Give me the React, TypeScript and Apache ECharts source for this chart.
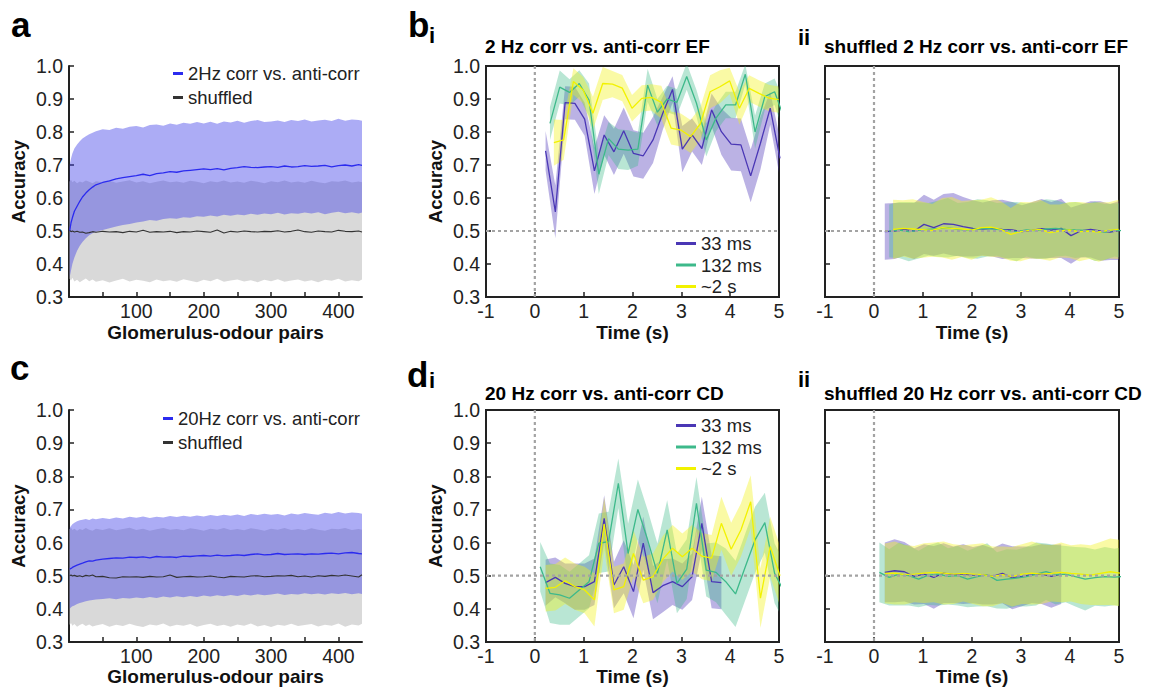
import React, { useEffect, useRef } from 'react';
import * as echarts from 'echarts';

const FONT = '"Liberation Sans", Arial, Helvetica, sans-serif';

// ---------- panels a / c : x = glomerulus-odour pairs ----------
const PAIRS = [1, 3, 5, 8, 12, 16, 20, 25, 30, 35, 40,
  50, 60, 70, 80, 90, 100, 110, 120, 130, 140,
  150, 160, 170, 180, 190, 200, 210, 220, 230, 240,
  250, 260, 270, 280, 290, 300, 310, 320, 330, 340,
  350, 360, 370, 380, 390, 400, 410, 420, 430, 435];
const PAIR_TICKS = [50, 100, 150, 200, 250, 300, 350, 400];
const PAIR_LABELS = [100, 200, 300, 400];
const ACC_TICKS = [0.3, 0.4, 0.5, 0.6, 0.7, 0.8, 0.9, 1.0];
const TIME_TICKS = [-1, 0, 1, 2, 3, 4, 5];

const aMean = [0.500, 0.525, 0.540, 0.560, 0.575, 0.590, 0.603, 0.615, 0.625, 0.633, 0.640,
  0.647, 0.652, 0.658, 0.662, 0.665, 0.668, 0.672, 0.668, 0.674, 0.676,
  0.680, 0.678, 0.682, 0.684, 0.686, 0.688, 0.686, 0.689, 0.685, 0.690,
  0.692, 0.695, 0.693, 0.692, 0.694, 0.695, 0.693, 0.697, 0.694, 0.695,
  0.698, 0.696, 0.697, 0.699, 0.694, 0.698, 0.700, 0.697, 0.701, 0.699];
const aHi = [0.700, 0.720, 0.735, 0.750, 0.762, 0.772, 0.780, 0.787, 0.793, 0.798, 0.802,
  0.808, 0.806, 0.813, 0.810, 0.816, 0.818, 0.814, 0.821, 0.823, 0.819,
  0.826, 0.822, 0.828, 0.825, 0.830, 0.826, 0.831, 0.825, 0.832, 0.829,
  0.834, 0.828, 0.833, 0.836, 0.830, 0.832, 0.835, 0.830, 0.836, 0.833,
  0.838, 0.832, 0.835, 0.837, 0.833, 0.840, 0.834, 0.838, 0.836, 0.834];
const aLo = [0.360, 0.380, 0.400, 0.420, 0.440, 0.455, 0.467, 0.478, 0.487, 0.493, 0.498,
  0.503, 0.508, 0.514, 0.518, 0.521, 0.526, 0.529, 0.533, 0.531, 0.536,
  0.539, 0.537, 0.542, 0.540, 0.545, 0.543, 0.547, 0.544, 0.549, 0.546,
  0.550, 0.548, 0.552, 0.549, 0.553, 0.551, 0.555, 0.550, 0.554, 0.552,
  0.556, 0.553, 0.557, 0.551, 0.555, 0.558, 0.554, 0.557, 0.553, 0.556];
const aShufMean = [0.502, 0.498, 0.500, 0.497, 0.499, 0.496, 0.497, 0.493, 0.495, 0.498, 0.496,
  0.499, 0.497, 0.498, 0.495, 0.499, 0.497, 0.502, 0.496, 0.498, 0.497,
  0.499, 0.495, 0.498, 0.497, 0.500, 0.498, 0.496, 0.503, 0.494, 0.499,
  0.497, 0.500, 0.498, 0.497, 0.499, 0.498, 0.501, 0.497, 0.499, 0.503,
  0.498, 0.496, 0.500, 0.498, 0.497, 0.502, 0.499, 0.498, 0.500, 0.497];
const aShufHi = [0.650, 0.655, 0.648, 0.652, 0.645, 0.650, 0.647, 0.653, 0.649, 0.645, 0.651,
  0.648, 0.652, 0.646, 0.650, 0.654, 0.647, 0.651, 0.645, 0.649, 0.653,
  0.648, 0.650, 0.646, 0.652, 0.649, 0.645, 0.651, 0.648, 0.653, 0.647,
  0.650, 0.646, 0.652, 0.649, 0.645, 0.651, 0.648, 0.653, 0.647, 0.650,
  0.646, 0.652, 0.648, 0.645, 0.651, 0.649, 0.653, 0.647, 0.650, 0.648];
const aShufLo = [0.355, 0.350, 0.358, 0.347, 0.352, 0.345, 0.350, 0.356, 0.348, 0.353, 0.346,
  0.351, 0.344, 0.350, 0.355, 0.347, 0.352, 0.349, 0.345, 0.353, 0.348,
  0.351, 0.346, 0.354, 0.349, 0.345, 0.352, 0.348, 0.355, 0.346, 0.350,
  0.353, 0.347, 0.351, 0.345, 0.352, 0.348, 0.354, 0.346, 0.350, 0.353,
  0.347, 0.351, 0.345, 0.352, 0.349, 0.355, 0.347, 0.351, 0.348, 0.353];

const cMean = [0.520, 0.522, 0.525, 0.528, 0.532, 0.535, 0.538, 0.542, 0.545, 0.544, 0.547,
  0.550, 0.552, 0.554, 0.553, 0.556, 0.555, 0.557, 0.554, 0.558, 0.556,
  0.557, 0.555, 0.559, 0.558, 0.560, 0.561, 0.559, 0.562, 0.560, 0.561,
  0.563, 0.561, 0.564, 0.566, 0.563, 0.564, 0.567, 0.564, 0.565, 0.566,
  0.564, 0.566, 0.565, 0.567, 0.568, 0.566, 0.569, 0.570, 0.567, 0.566];
const cHi = [0.645, 0.650, 0.655, 0.660, 0.664, 0.667, 0.669, 0.671, 0.668, 0.673, 0.670,
  0.674, 0.671, 0.676, 0.673, 0.678, 0.675, 0.679, 0.674, 0.678, 0.676,
  0.680, 0.677, 0.681, 0.678, 0.682, 0.679, 0.683, 0.680, 0.684, 0.681,
  0.685, 0.680, 0.686, 0.683, 0.687, 0.684, 0.686, 0.682, 0.688, 0.685,
  0.689, 0.686, 0.684, 0.690, 0.687, 0.692, 0.688, 0.691, 0.689, 0.687];
const cLo = [0.400, 0.405, 0.408, 0.410, 0.415, 0.418, 0.420, 0.423, 0.425, 0.427, 0.428,
  0.430, 0.432, 0.429, 0.433, 0.431, 0.434, 0.432, 0.436, 0.433, 0.437,
  0.434, 0.438, 0.435, 0.439, 0.436, 0.440, 0.437, 0.441, 0.438, 0.442,
  0.439, 0.443, 0.440, 0.444, 0.441, 0.443, 0.446, 0.442, 0.445, 0.443,
  0.447, 0.444, 0.446, 0.443, 0.447, 0.445, 0.448, 0.444, 0.447, 0.445];
const cShufMean = [0.500, 0.502, 0.499, 0.501, 0.498, 0.500, 0.497, 0.501, 0.499, 0.502, 0.497,
  0.498, 0.494, 0.493, 0.497, 0.496, 0.497, 0.495, 0.498, 0.496, 0.497,
  0.502, 0.495, 0.497, 0.498, 0.496, 0.497, 0.499, 0.496, 0.494, 0.498,
  0.497, 0.496, 0.499, 0.500, 0.497, 0.498, 0.500, 0.499, 0.501, 0.497,
  0.499, 0.496, 0.500, 0.498, 0.501, 0.499, 0.502, 0.499, 0.496, 0.503];
const cShufHi = [0.640, 0.645, 0.638, 0.642, 0.636, 0.641, 0.638, 0.644, 0.639, 0.636, 0.642,
  0.638, 0.643, 0.637, 0.641, 0.645, 0.638, 0.642, 0.636, 0.640, 0.644,
  0.639, 0.641, 0.637, 0.643, 0.640, 0.636, 0.642, 0.639, 0.644, 0.638,
  0.641, 0.637, 0.643, 0.640, 0.636, 0.642, 0.639, 0.644, 0.638, 0.641,
  0.637, 0.643, 0.639, 0.636, 0.642, 0.640, 0.644, 0.638, 0.641, 0.639];
const cShufLo = [0.352, 0.357, 0.349, 0.354, 0.346, 0.351, 0.355, 0.348, 0.353, 0.347, 0.350,
  0.354, 0.346, 0.352, 0.348, 0.355, 0.349, 0.345, 0.353, 0.350, 0.356,
  0.347, 0.352, 0.349, 0.354, 0.346, 0.351, 0.355, 0.348, 0.352, 0.346,
  0.353, 0.349, 0.356, 0.347, 0.351, 0.345, 0.352, 0.349, 0.355, 0.348,
  0.351, 0.354, 0.347, 0.352, 0.349, 0.356, 0.346, 0.353, 0.350, 0.355];

// ---------- panels b / d : x = time (s) ----------
const T22 = [0.22, 0.42, 0.62, 0.82, 1.02, 1.22, 1.42, 1.62, 1.82, 2.02, 2.22, 2.42, 2.62,
  2.82, 3.02, 3.22, 3.42, 3.62, 3.82, 4.02, 4.22, 4.42, 4.62, 4.82, 5.02];
const T31 = [0.31, 0.51, 0.71, 0.91, 1.11, 1.31, 1.51, 1.71, 1.91, 2.11, 2.31, 2.51, 2.71,
  2.91, 3.11, 3.31, 3.51, 3.71, 3.91, 4.11, 4.31, 4.51, 4.71, 4.91, 5.11];
const T39 = [0.39, 0.59, 0.79, 0.99, 1.19, 1.39, 1.59, 1.79, 1.99, 2.19, 2.39, 2.59, 2.79,
  2.99, 3.19, 3.39, 3.59, 3.79, 3.99, 4.19, 4.39, 4.59, 4.79, 4.99];
const T11 = [0.11, 0.31, 0.51, 0.71, 0.91, 1.11, 1.31, 1.51, 1.71, 1.91, 2.11, 2.31, 2.51,
  2.71, 2.91, 3.11, 3.31, 3.51, 3.71, 3.91, 4.11, 4.31, 4.51, 4.71, 4.91, 5.11];
const T22short = [0.22, 0.42, 0.62, 0.82, 1.02, 1.22, 1.42, 1.62, 1.82, 2.02, 2.22, 2.42, 2.62,
  2.82, 3.02, 3.22, 3.42, 3.62, 3.82];

// b(i) 2 Hz corr vs anti-corr EF
const bP = [0.743, 0.558, 0.889, 0.887, 0.839, 0.682, 0.791, 0.740, 0.804, 0.735, 0.728, 0.776, 0.857,
  0.929, 0.748, 0.791, 0.750, 0.867, 0.801, 0.763, 0.761, 0.667, 0.766, 0.872, 0.720];
const bPe = [0.06, 0.08, 0.05, 0.05, 0.05, 0.07, 0.06, 0.07, 0.07, 0.07, 0.07, 0.07, 0.05,
  0.04, 0.07, 0.05, 0.05, 0.05, 0.07, 0.08, 0.08, 0.08, 0.08, 0.05, 0.06];
const bG = [0.826, 0.936, 0.920, 0.947, 0.897, 0.672, 0.780, 0.748, 0.745, 0.748, 0.942, 0.860, 0.900,
  0.890, 0.968, 0.887, 0.776, 0.842, 0.882, 0.882, 0.975, 0.800, 0.907, 0.922, 0.840];
const bGe = [0.05, 0.05, 0.04, 0.04, 0.05, 0.06, 0.05, 0.06, 0.06, 0.05, 0.05, 0.04, 0.04,
  0.04, 0.04, 0.04, 0.05, 0.04, 0.04, 0.04, 0.03, 0.05, 0.04, 0.04, 0.05];
const bY = [0.768, 0.776, 0.953, 0.927, 0.857, 0.947, 0.945, 0.933, 0.872, 0.902, 0.905, 0.890, 0.812,
  0.806, 0.786, 0.825, 0.922, 0.937, 0.955, 0.872, 0.932, 0.917, 0.903, 0.898];
const bYe = [0.07, 0.06, 0.04, 0.04, 0.05, 0.05, 0.04, 0.04, 0.04, 0.04, 0.04, 0.05, 0.05,
  0.05, 0.05, 0.05, 0.05, 0.05, 0.04, 0.05, 0.04, 0.04, 0.04, 0.04];

// b(ii) shuffled
const sbP = [0.498, 0.500, 0.505, 0.500, 0.520, 0.510, 0.522, 0.520, 0.513, 0.508, 0.506, 0.508, 0.505,
  0.503, 0.498, 0.502, 0.507, 0.503, 0.508, 0.486, 0.500, 0.505, 0.500, 0.497, 0.502];
const sbPe = [0.085, 0.085, 0.080, 0.085, 0.090, 0.085, 0.090, 0.095, 0.090, 0.085, 0.080, 0.085, 0.090,
  0.085, 0.080, 0.085, 0.090, 0.085, 0.090, 0.085, 0.080, 0.085, 0.090, 0.085, 0.090];
const sbG = [0.500, 0.503, 0.498, 0.502, 0.505, 0.507, 0.510, 0.505, 0.503, 0.506, 0.508, 0.505, 0.502,
  0.498, 0.503, 0.501, 0.506, 0.508, 0.505, 0.503, 0.502, 0.499, 0.497, 0.503, 0.500];
const sbGe = [0.080, 0.085, 0.090, 0.085, 0.080, 0.085, 0.090, 0.080, 0.085, 0.090, 0.085, 0.080, 0.085,
  0.090, 0.080, 0.085, 0.090, 0.085, 0.080, 0.085, 0.080, 0.090, 0.085, 0.080, 0.085];
const sbY = [0.505, 0.508, 0.506, 0.504, 0.502, 0.510, 0.508, 0.506, 0.503, 0.510, 0.512, 0.505, 0.490,
  0.498, 0.502, 0.505, 0.495, 0.500, 0.503, 0.498, 0.500, 0.497, 0.502, 0.505];
const sbYe = [0.090, 0.085, 0.090, 0.085, 0.080, 0.090, 0.095, 0.085, 0.090, 0.085, 0.090, 0.085, 0.080,
  0.090, 0.085, 0.090, 0.085, 0.080, 0.085, 0.090, 0.085, 0.090, 0.085, 0.090];

// d(i) 20 Hz corr vs anti-corr CD
const dP = [0.479, 0.495, 0.477, 0.467, 0.467, 0.482, 0.673, 0.472, 0.527, 0.452, 0.598, 0.449, 0.470,
  0.482, 0.467, 0.497, 0.658, 0.482, 0.479];
const dPe = [0.07, 0.06, 0.06, 0.07, 0.07, 0.07, 0.07, 0.07, 0.08, 0.08, 0.08, 0.08, 0.08,
  0.07, 0.07, 0.07, 0.08, 0.08, 0.08];
const dG = [0.527, 0.447, 0.442, 0.432, 0.457, 0.482, 0.598, 0.603, 0.779, 0.567, 0.700, 0.608, 0.507,
  0.638, 0.477, 0.520, 0.718, 0.517, 0.510, 0.482, 0.445, 0.527, 0.608, 0.660, 0.507, 0.450];
const dGe = [0.075, 0.09, 0.09, 0.08, 0.08, 0.08, 0.09, 0.09, 0.075, 0.09, 0.09, 0.09, 0.09,
  0.09, 0.09, 0.09, 0.08, 0.08, 0.09, 0.10, 0.10, 0.10, 0.10, 0.09, 0.09, 0.09];
const dY = [0.462, 0.465, 0.485, 0.467, 0.457, 0.427, 0.656, 0.457, 0.467, 0.567, 0.487, 0.497, 0.550,
  0.583, 0.557, 0.583, 0.559, 0.553, 0.658, 0.580, 0.638, 0.723, 0.432, 0.588, 0.500];
const dYe = [0.07, 0.07, 0.07, 0.07, 0.07, 0.08, 0.08, 0.07, 0.07, 0.07, 0.07, 0.07, 0.07,
  0.07, 0.07, 0.07, 0.07, 0.07, 0.08, 0.08, 0.08, 0.08, 0.09, 0.09, 0.09];

// d(ii) shuffled
const sdP = [0.510, 0.515, 0.512, 0.498, 0.505, 0.495, 0.508, 0.503, 0.505, 0.502, 0.503, 0.498, 0.507,
  0.494, 0.498, 0.503, 0.505, 0.498, 0.505];
const sdPe = [0.090, 0.095, 0.090, 0.085, 0.090, 0.095, 0.090, 0.085, 0.090, 0.085, 0.090, 0.085, 0.090,
  0.095, 0.090, 0.085, 0.090, 0.095, 0.090];
const sdG = [0.510, 0.495, 0.505, 0.500, 0.490, 0.502, 0.505, 0.498, 0.500, 0.490, 0.497, 0.503, 0.486,
  0.490, 0.493, 0.497, 0.505, 0.512, 0.503, 0.505, 0.497, 0.490, 0.494, 0.497, 0.496, 0.498];
const sdGe = [0.090, 0.085, 0.095, 0.090, 0.085, 0.090, 0.095, 0.085, 0.090, 0.085, 0.090, 0.095, 0.085,
  0.090, 0.085, 0.090, 0.095, 0.085, 0.090, 0.085, 0.090, 0.095, 0.085, 0.090, 0.085, 0.090];
const sdY = [0.507, 0.508, 0.503, 0.505, 0.508, 0.510, 0.508, 0.505, 0.507, 0.505, 0.503, 0.498, 0.503,
  0.497, 0.505, 0.508, 0.505, 0.507, 0.510, 0.507, 0.505, 0.502, 0.507, 0.512, 0.508];
const sdYe = [0.090, 0.095, 0.090, 0.085, 0.090, 0.090, 0.095, 0.090, 0.085, 0.090, 0.095, 0.090, 0.085,
  0.090, 0.090, 0.095, 0.090, 0.085, 0.090, 0.085, 0.090, 0.090, 0.095, 0.100, 0.100];

// ---------- styling ----------
const INK = '#222';
const GRAY_BAND = '#d9d9d9';
const BLUE_BAND = 'rgba(58,58,232,0.42)';
const BLUE_LINE = '#2b2bef';
const SHUF_LINE = '#333333';
const P_LINE = '#4a37b5';
const G_LINE = '#3db98a';
const Y_LINE = '#f2f200';
const P_BAND = 'rgba(75,52,185,0.38)';
const G_BAND = 'rgba(60,185,135,0.36)';
const Y_BAND = 'rgba(242,242,30,0.40)';
const REF_GRAY = '#a3a3a3';

const plus = (m: number[], e: number[]) => m.map((v, i) => v + e[i]);
const minus = (m: number[], e: number[]) => m.map((v, i) => v - e[i]);

function band(gi: number, id: string, xs: number[], lo: number[], hi: number[], color: string) {
  return {
    type: 'custom',
    name: id,
    xAxisIndex: gi,
    yAxisIndex: gi,
    z: 1,
    silent: true,
    clip: true,
    data: [[xs[0], lo[0]]],
    renderItem: (params: any, api: any) => {
      const top = xs.map((x, i) => api.coord([x, hi[i]]));
      const bot = xs.map((x, i) => api.coord([x, lo[i]])).reverse();
      const cs = params.coordSys;
      return {
        type: 'group',
        clipPath: { type: 'rect', shape: { x: cs.x, y: cs.y, width: cs.width, height: cs.height } },
        children: [
          { type: 'polygon', shape: { points: top.concat(bot) }, style: { fill: color, stroke: null } },
        ],
      };
    },
  };
}

// dashed reference lines (x = 0 and chance level 0.5), drawn through the axes' scales
function refLines(gi: number) {
  return {
    type: 'custom',
    name: 'ref-' + gi,
    xAxisIndex: gi,
    yAxisIndex: gi,
    z: 4,
    silent: true,
    data: [[0, 0.5]],
    renderItem: (params: any, api: any) => {
      const cs = params.coordSys;
      const p = api.coord([api.value(0), api.value(1)]);
      const style = { stroke: REF_GRAY, lineWidth: 2.2, lineDash: [3, 3], fill: null };
      return {
        type: 'group',
        children: [
          { type: 'line', shape: { x1: p[0], y1: cs.y, x2: p[0], y2: cs.y + cs.height }, style },
          { type: 'line', shape: { x1: cs.x, y1: p[1], x2: cs.x + cs.width, y2: p[1] }, style },
        ],
      };
    },
  };
}

function line(gi: number, name: string, xs: number[], ys: number[], color: string, width: number) {
  return {
    type: 'line',
    name,
    xAxisIndex: gi,
    yAxisIndex: gi,
    z: 3,
    silent: true,
    color,
    symbol: 'none',
    showSymbol: false,
    lineStyle: { color, width },
    emphasis: { disabled: true },
    data: xs.map((x, i) => [x, ys[i]]),
  };
}

const tickStyle = { color: INK, width: 1.5 };
const lineStyleAxis = { color: INK, width: 2 };
const labelBase = { fontSize: 19.5, color: INK, fontFamily: FONT };
const nameBase = { fontSize: 19, fontWeight: 'bold', color: '#111', fontFamily: FONT };

function xPairs(gi: number, gap: number) {
  return {
    gridIndex: gi, type: 'value', min: 0, max: 435,
    axisLine: { show: true, onZero: false, lineStyle: lineStyleAxis },
    axisTick: { show: true, inside: true, length: 5, lineStyle: tickStyle, customValues: PAIR_TICKS },
    axisLabel: { ...labelBase, margin: 4, customValues: PAIR_LABELS },
    splitLine: { show: false },
    name: 'Glomerulus-odour pairs', nameLocation: 'middle', nameGap: gap, nameTextStyle: nameBase,
  };
}
function xTime(gi: number, gap: number) {
  return {
    gridIndex: gi, type: 'value', min: -1, max: 5, interval: 1,
    axisLine: { show: true, onZero: false, lineStyle: lineStyleAxis },
    axisTick: { show: true, inside: true, length: 5, lineStyle: tickStyle, customValues: TIME_TICKS },
    axisLabel: { ...labelBase, margin: 4, customValues: TIME_TICKS },
    splitLine: { show: false },
    name: 'Time (s)', nameLocation: 'middle', nameGap: gap, nameTextStyle: nameBase,
  };
}
function yAcc(gi: number, labels: boolean) {
  return {
    gridIndex: gi, type: 'value', min: 0.3, max: 1.0, interval: 0.1,
    axisLine: { show: true, onZero: false, lineStyle: lineStyleAxis },
    axisTick: { show: true, inside: true, length: 5, lineStyle: tickStyle, customValues: ACC_TICKS },
    axisLabel: {
      show: labels, ...labelBase, margin: 6, customValues: ACC_TICKS,
      formatter: (v: number) => v.toFixed(1),
    },
    splitLine: { show: false },
    name: labels ? 'Accuracy' : '', nameLocation: 'middle', nameGap: 41,
    nameTextStyle: { ...nameBase, fontSize: 18.5 },
  };
}

const box = { show: true, borderColor: INK, borderWidth: 2, backgroundColor: 'rgba(0,0,0,0)' };

function letter(text: string, left: number, top: number, size: number) {
  return {
    text, left, top, padding: 0,
    textStyle: { fontSize: size, fontWeight: 'bold', color: '#000', fontFamily: FONT },
  };
}

const legendBase = {
  orient: 'vertical', icon: 'rect', selectedMode: false, padding: 0,
  textStyle: { fontSize: 18.5, color: INK, fontFamily: FONT },
};

const option: any = {
  animation: false,
  backgroundColor: '#fff',
  textStyle: { fontFamily: FONT },
  title: [
    letter('a', 11, 7, 35),
    letter('c', 10, 350, 35),
    letter('b', 408, 7, 35),
    letter('i', 429, 24.5, 22),
    letter('d', 407, 357, 35),
    letter('i', 429, 369.5, 22),
    letter('ii', 798, 26.5, 22),
    letter('ii', 798, 368.5, 22),
    letter('2 Hz corr vs. anti-corr EF', 485, 36.5, 19),
    letter('shuffled 2 Hz corr vs. anti-corr EF', 824, 36.5, 19),
    letter('20 Hz corr vs. anti-corr CD', 485, 384, 19),
    letter('shuffled 20 Hz corr vs. anti-corr CD', 824, 384, 19),
  ],
  legend: [
    { ...legendBase, data: ['2Hz corr vs. anti-corr', 'shuffled'], left: 173, top: 64, itemWidth: 10, itemHeight: 3, itemGap: 5 },
    { ...legendBase, data: ['20Hz corr vs. anti-corr', 'shuffled'], left: 163, top: 409, itemWidth: 10, itemHeight: 3, itemGap: 5 },
    { ...legendBase, data: ['33 ms', '132 ms', '~2 s'], left: 676, top: 234, itemWidth: 20, itemHeight: 3, itemGap: 2.5 },
    { ...legendBase, data: ['33 ms', '132 ms', '~2 s'], left: 676, top: 416, itemWidth: 20, itemHeight: 3, itemGap: 2.5 },
  ],
  grid: [
    { left: 69, top: 66, width: 293, height: 231 },
    { left: 486, top: 66, width: 293, height: 231, ...box },
    { left: 825, top: 66, width: 294, height: 231, ...box },
    { left: 69, top: 410, width: 293, height: 232 },
    { left: 486, top: 410, width: 293, height: 232, ...box },
    { left: 825, top: 410, width: 294, height: 232, ...box },
  ],
  xAxis: [xPairs(0, 26), xTime(1, 26), xTime(2, 26), xPairs(3, 24), xTime(4, 24), xTime(5, 24)],
  yAxis: [yAcc(0, true), yAcc(1, true), yAcc(2, false), yAcc(3, true), yAcc(4, true), yAcc(5, false)],
  series: [
    // a
    band(0, 'a-shuf-band', PAIRS, aShufLo, aShufHi, GRAY_BAND),
    band(0, 'a-band', PAIRS, aLo, aHi, BLUE_BAND),
    line(0, '2Hz corr vs. anti-corr', PAIRS, aMean, BLUE_LINE, 1.3),
    line(0, 'shuffled', PAIRS, aShufMean, SHUF_LINE, 1.1),
    // b(i)
    band(1, 'bi-p', T22, minus(bP, bPe), plus(bP, bPe), P_BAND),
    band(1, 'bi-g', T31, minus(bG, bGe), plus(bG, bGe), G_BAND),
    band(1, 'bi-y', T39, minus(bY, bYe), plus(bY, bYe), Y_BAND),
    line(1, '33 ms', T22, bP, P_LINE, 1.3),
    line(1, '132 ms', T31, bG, G_LINE, 1.3),
    line(1, '~2 s', T39, bY, Y_LINE, 1.3),
    refLines(1),
    // b(ii)
    band(2, 'bii-p', T22, minus(sbP, sbPe), plus(sbP, sbPe), P_BAND),
    band(2, 'bii-g', T31, minus(sbG, sbGe), plus(sbG, sbGe), G_BAND),
    band(2, 'bii-y', T39, minus(sbY, sbYe), plus(sbY, sbYe), Y_BAND),
    line(2, '33 ms', T22, sbP, P_LINE, 1.3),
    line(2, '132 ms', T31, sbG, G_LINE, 1.3),
    line(2, '~2 s', T39, sbY, Y_LINE, 1.3),
    refLines(2),
    // c
    band(3, 'c-shuf-band', PAIRS, cShufLo, cShufHi, GRAY_BAND),
    band(3, 'c-band', PAIRS, cLo, cHi, BLUE_BAND),
    line(3, '20Hz corr vs. anti-corr', PAIRS, cMean, BLUE_LINE, 1.3),
    line(3, 'shuffled', PAIRS, cShufMean, SHUF_LINE, 1.1),
    // d(i)
    band(4, 'di-p', T22short, minus(dP, dPe), plus(dP, dPe), P_BAND),
    band(4, 'di-g', T11, minus(dG, dGe), plus(dG, dGe), G_BAND),
    band(4, 'di-y', T22, minus(dY, dYe), plus(dY, dYe), Y_BAND),
    line(4, '33 ms', T22short, dP, P_LINE, 1.3),
    line(4, '132 ms', T11, dG, G_LINE, 1.3),
    line(4, '~2 s', T22, dY, Y_LINE, 1.3),
    refLines(4),
    // d(ii)
    band(5, 'dii-p', T22short, minus(sdP, sdPe), plus(sdP, sdPe), P_BAND),
    band(5, 'dii-g', T11, minus(sdG, sdGe), plus(sdG, sdGe), G_BAND),
    band(5, 'dii-y', T22, minus(sdY, sdYe), plus(sdY, sdYe), Y_BAND),
    line(5, '33 ms', T22short, sdP, P_LINE, 1.3),
    line(5, '132 ms', T11, sdG, G_LINE, 1.3),
    line(5, '~2 s', T22, sdY, Y_LINE, 1.3),
    refLines(5),
  ],
};

export default function App() {
  const ref = useRef<HTMLDivElement>(null);
  useEffect(() => {
    document.body.style.margin = '0';
    const chart = echarts.init(ref.current as HTMLDivElement, null, { renderer: 'svg' });
    chart.setOption(option);
    return () => chart.dispose();
  }, []);
  return <div ref={ref} style={{ width: 1152, height: 690 }} />;
}
